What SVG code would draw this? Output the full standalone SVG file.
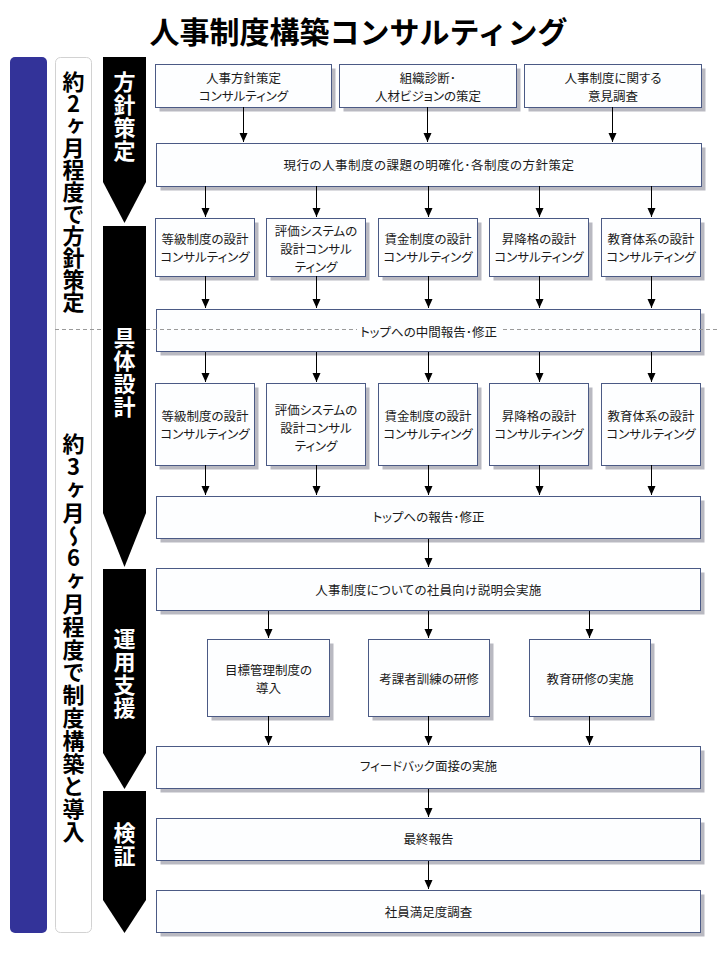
<svg xmlns="http://www.w3.org/2000/svg" width="720" height="960" viewBox="0 0 720 960">
<defs>
<marker id="ah" markerUnits="userSpaceOnUse" markerWidth="10" markerHeight="9" refX="9" refY="4" orient="auto">
<path d="M0,0 L9,4 L0,8 Z" fill="#000"/>
</marker>
<style>
.sh{fill:#b9b9c1}
.b{fill:#fdfeff;stroke:#4b5a85;stroke-width:1}
.t{font-family:"Noto Sans CJK JP","Noto Sans",sans-serif;font-size:12.5px;fill:#1a1a1a;text-anchor:middle;font-feature-settings:"palt"}
.c line{stroke:#000;stroke-width:1;marker-end:url(#ah)}
.ph{fill:#000}
.pt{font-family:"Noto Sans CJK JP","Noto Sans",sans-serif;font-size:22px;font-weight:bold;fill:#fff;writing-mode:vertical-rl;text-orientation:upright;letter-spacing:1px}
.vt{font-family:"Noto Sans CJK JP","Noto Sans",sans-serif;font-size:22px;font-weight:bold;fill:#000;writing-mode:vertical-rl;text-orientation:upright}
</style>
</defs>
<rect width="720" height="960" fill="#fff"/>
<text x="358.5" y="43" style="font-family:'Noto Sans CJK JP','Noto Sans',sans-serif;font-size:30px;font-weight:bold;text-anchor:middle" fill="#000">人事制度構築コンサルティング</text>

<g id="period-bar"><rect x="10" y="57" width="37" height="876" rx="5" fill="#333399"/></g>
<g id="period-labels">
<rect x="55.5" y="57.5" width="36" height="875" rx="5" fill="#fff" stroke="#d2d2d2"/>
<text class="vt" x="73.5" y="71">約2ヶ月程度で方針策定</text>
<text class="vt" x="73.5" y="433" style="letter-spacing:0.8px">約3ヶ月〜6ヶ月程度で制度構築と導入</text>
</g>

<g id="r1a"><rect class="sh" x="159.5" y="68.5" width="176" height="43"/><rect class="b" x="155.5" y="64.5" width="176" height="43"/><text class="t" x="243.5" y="82.5">人事方針策定</text><text class="t" x="243.5" y="100.5">コンサルティング</text></g>
<g id="r1b"><rect class="sh" x="343.5" y="68.5" width="177" height="43"/><rect class="b" x="339.5" y="64.5" width="177" height="43"/><text class="t" x="428" y="82.5">組織診断･</text><text class="t" x="428" y="100.5">人材ビジョンの策定</text></g>
<g id="r1c"><rect class="sh" x="528.5" y="68.5" width="177" height="43"/><rect class="b" x="524.5" y="64.5" width="177" height="43"/><text class="t" x="613" y="82.5">人事制度に関する</text><text class="t" x="613" y="100.5">意見調査</text></g>

<g id="r2"><rect class="sh" x="160.5" y="147.5" width="545" height="43"/><rect class="b" x="156.5" y="143.5" width="545" height="43"/><text class="t" x="429" y="170" style="letter-spacing:0.5px">現行の人事制度の課題の明確化･各制度の方針策定</text></g>

<g id="r3a"><rect class="sh" x="159.5" y="222.5" width="99" height="58"/><rect class="b" x="155.5" y="218.5" width="99" height="58"/><text class="t" x="205" y="244">等級制度の設計</text><text class="t" x="205" y="262">コンサルティング</text></g>
<g id="r3b"><rect class="sh" x="270.5" y="222.5" width="99" height="58"/><rect class="b" x="266.5" y="218.5" width="99" height="58"/><text class="t" x="316" y="236">評価システムの</text><text class="t" x="316" y="254">設計コンサル</text><text class="t" x="316" y="272">ティング</text></g>
<g id="r3c"><rect class="sh" x="382.5" y="222.5" width="99" height="58"/><rect class="b" x="378.5" y="218.5" width="99" height="58"/><text class="t" x="428" y="244">賃金制度の設計</text><text class="t" x="428" y="262">コンサルティング</text></g>
<g id="r3d"><rect class="sh" x="493.5" y="222.5" width="99" height="58"/><rect class="b" x="489.5" y="218.5" width="99" height="58"/><text class="t" x="539" y="244">昇降格の設計</text><text class="t" x="539" y="262">コンサルティング</text></g>
<g id="r3e"><rect class="sh" x="605.5" y="222.5" width="99" height="58"/><rect class="b" x="601.5" y="218.5" width="99" height="58"/><text class="t" x="651" y="244">教育体系の設計</text><text class="t" x="651" y="262">コンサルティング</text></g>

<g id="r4"><rect class="sh" x="160.5" y="313.5" width="544" height="42"/><rect class="b" x="156.5" y="309.5" width="544" height="42"/></g>

<line x1="55" y1="329.5" x2="720" y2="329.5" stroke="#9a9a9a" stroke-width="1" stroke-dasharray="4,3"/>
<g id="r4-label"><rect x="357" y="322" width="143" height="16" fill="#fdfeff"/><text class="t" x="428.5" y="337">トップへの中間報告･修正</text></g>

<g id="r5a"><rect class="sh" x="159.5" y="387.5" width="99" height="82"/><rect class="b" x="155.5" y="383.5" width="99" height="82"/><text class="t" x="205" y="421">等級制度の設計</text><text class="t" x="205" y="439">コンサルティング</text></g>
<g id="r5b"><rect class="sh" x="270.5" y="387.5" width="99" height="82"/><rect class="b" x="266.5" y="383.5" width="99" height="82"/><text class="t" x="316" y="415">評価システムの</text><text class="t" x="316" y="433">設計コンサル</text><text class="t" x="316" y="451">ティング</text></g>
<g id="r5c"><rect class="sh" x="382.5" y="387.5" width="99" height="82"/><rect class="b" x="378.5" y="383.5" width="99" height="82"/><text class="t" x="428" y="421">賃金制度の設計</text><text class="t" x="428" y="439">コンサルティング</text></g>
<g id="r5d"><rect class="sh" x="493.5" y="387.5" width="99" height="82"/><rect class="b" x="489.5" y="383.5" width="99" height="82"/><text class="t" x="539" y="421">昇降格の設計</text><text class="t" x="539" y="439">コンサルティング</text></g>
<g id="r5e"><rect class="sh" x="605.5" y="387.5" width="99" height="82"/><rect class="b" x="601.5" y="383.5" width="99" height="82"/><text class="t" x="651" y="421">教育体系の設計</text><text class="t" x="651" y="439">コンサルティング</text></g>

<g id="r6"><rect class="sh" x="160.5" y="500.5" width="544" height="42"/><rect class="b" x="156.5" y="496.5" width="544" height="42"/><text class="t" x="428.5" y="522">トップへの報告･修正</text></g>
<g id="r7"><rect class="sh" x="160.5" y="572.5" width="544" height="42"/><rect class="b" x="156.5" y="568.5" width="544" height="42"/><text class="t" x="428.5" y="594.5" style="letter-spacing:0.3px">人事制度についての社員向け説明会実施</text></g>

<g id="r8a"><rect class="sh" x="211.5" y="643.5" width="122" height="77"/><rect class="b" x="207.5" y="639.5" width="122" height="77"/><text class="t" x="268.5" y="675">目標管理制度の</text><text class="t" x="268.5" y="693">導入</text></g>
<g id="r8b"><rect class="sh" x="372.5" y="643.5" width="121" height="77"/><rect class="b" x="368.5" y="639.5" width="121" height="77"/><text class="t" x="429" y="684">考課者訓練の研修</text></g>
<g id="r8c"><rect class="sh" x="533.5" y="643.5" width="121" height="77"/><rect class="b" x="529.5" y="639.5" width="121" height="77"/><text class="t" x="590" y="684">教育研修の実施</text></g>

<g id="r9"><rect class="sh" x="160.5" y="750.5" width="544" height="42"/><rect class="b" x="156.5" y="746.5" width="544" height="42"/><text class="t" x="428.5" y="771">フィードバック面接の実施</text></g>
<g id="r10"><rect class="sh" x="160.5" y="822.5" width="544" height="42"/><rect class="b" x="156.5" y="818.5" width="544" height="42"/><text class="t" x="428.5" y="844">最終報告</text></g>
<g id="r11"><rect class="sh" x="160.5" y="894.5" width="544" height="42"/><rect class="b" x="156.5" y="890.5" width="544" height="42"/><text class="t" x="428.5" y="916.5">社員満足度調査</text></g>

<g id="phase1"><path class="ph" d="M103,57 H146 V182 L124.5,223 L103,182 Z"/><text class="pt" x="124.5" y="71">方針策定</text></g>
<g id="phase2"><path class="ph" d="M103,226 H146 V513 L124.5,567 L103,513 Z"/><text class="pt" x="124.5" y="327">具体設計</text></g>
<g id="phase3"><path class="ph" d="M103,569 H146 V753 L124.5,789 L103,753 Z"/><text class="pt" x="124.5" y="628">運用支援</text></g>
<g id="phase4"><path class="ph" d="M103,791 H146 V900 L124.5,933 L103,900 Z"/><text class="pt" x="124.5" y="822">検証</text></g>

<g id="connectors" class="c">
<line x1="243.5" y1="107" x2="243.5" y2="142"/>
<line x1="427.5" y1="107" x2="427.5" y2="142"/>
<line x1="612.5" y1="107" x2="612.5" y2="142"/>
<line x1="205.5" y1="186" x2="205.5" y2="217"/>
<line x1="316.5" y1="186" x2="316.5" y2="217"/>
<line x1="428.5" y1="186" x2="428.5" y2="217"/>
<line x1="539.5" y1="186" x2="539.5" y2="217"/>
<line x1="651.5" y1="186" x2="651.5" y2="217"/>
<line x1="205.5" y1="276" x2="205.5" y2="308"/>
<line x1="316.5" y1="276" x2="316.5" y2="308"/>
<line x1="428.5" y1="276" x2="428.5" y2="308"/>
<line x1="539.5" y1="276" x2="539.5" y2="308"/>
<line x1="651.5" y1="276" x2="651.5" y2="308"/>
<line x1="205.5" y1="352" x2="205.5" y2="382"/>
<line x1="316.5" y1="352" x2="316.5" y2="382"/>
<line x1="428.5" y1="352" x2="428.5" y2="382"/>
<line x1="539.5" y1="352" x2="539.5" y2="382"/>
<line x1="651.5" y1="352" x2="651.5" y2="382"/>
<line x1="205.5" y1="465" x2="205.5" y2="495"/>
<line x1="316.5" y1="465" x2="316.5" y2="495"/>
<line x1="428.5" y1="465" x2="428.5" y2="495"/>
<line x1="539.5" y1="465" x2="539.5" y2="495"/>
<line x1="651.5" y1="465" x2="651.5" y2="495"/>
<line x1="428.5" y1="539" x2="428.5" y2="567"/>
<line x1="268.5" y1="611" x2="268.5" y2="638"/>
<line x1="428.5" y1="611" x2="428.5" y2="638"/>
<line x1="589.5" y1="611" x2="589.5" y2="638"/>
<line x1="268.5" y1="716" x2="268.5" y2="745"/>
<line x1="428.5" y1="716" x2="428.5" y2="745"/>
<line x1="589.5" y1="716" x2="589.5" y2="745"/>
<line x1="428.5" y1="789" x2="428.5" y2="817"/>
<line x1="428.5" y1="861" x2="428.5" y2="889"/>
</g>
</svg>
